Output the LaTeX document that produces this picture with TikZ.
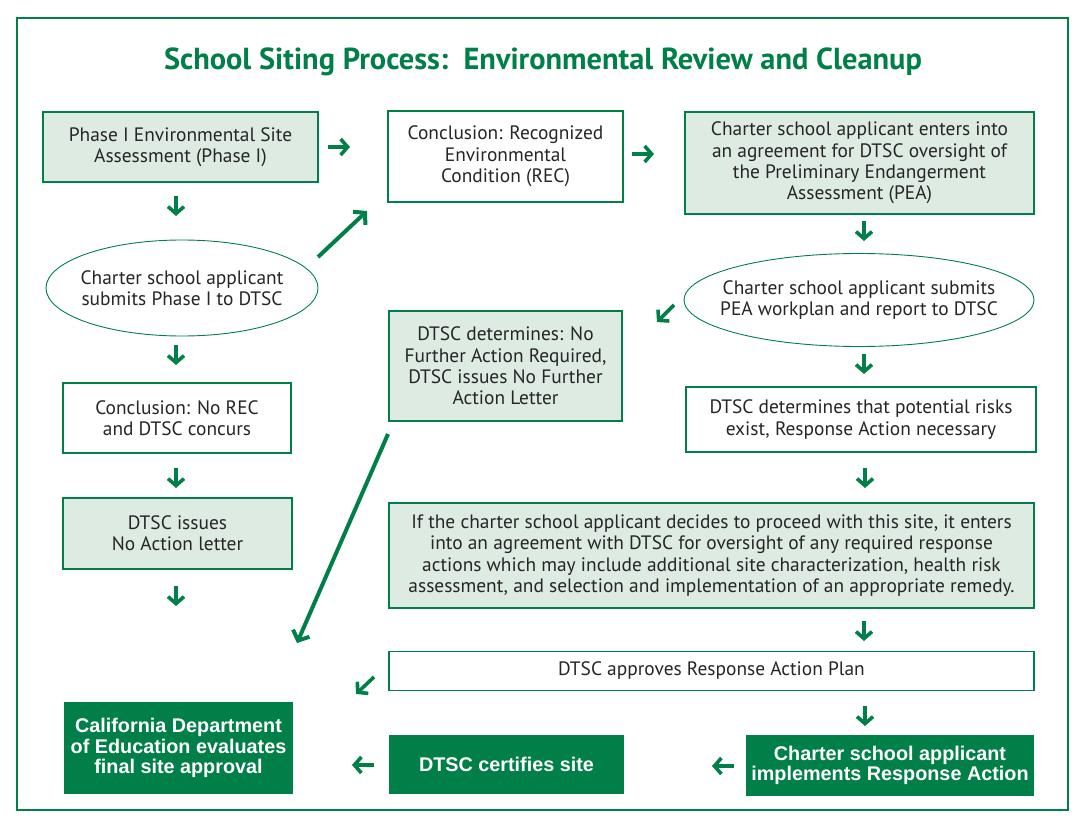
\documentclass[tikz,border=0pt]{standalone}
\usepackage{fontspec}
\setmainfont{PT Sans}
\newfontfamily\boldfont{Liberation Sans}
\usetikzlibrary{arrows.meta,shapes.geometric}
\definecolor{dgreen}{RGB}{0,128,72}
\definecolor{lgreen}{RGB}{221,235,226}
\begin{document}
\begin{tikzpicture}[x=1pt,y=-1pt,
  txt/.style={font=\fontsize{19.4}{21.4}\selectfont, align=center, text=black!85, inner sep=0pt},
  lbox/.style={txt, draw=dgreen, line width=1.2pt, fill=lgreen},
  wbox/.style={txt, draw=dgreen, line width=1.2pt, fill=white},
  tbox/.style={txt, draw=dgreen, line width=2.2pt, fill=white},
  dbox/.style={font=\boldfont\bfseries\fontsize{19.8}{20.6}\selectfont, align=center, text=white, fill=dgreen, inner sep=0pt},
  ell/.style={ellipse, draw=dgreen, line width=0.9pt, fill=white, inner sep=0pt},
  sarr/.style={draw=dgreen, line width=3.6pt, -{Straight Barb[length=7pt,width=16pt]}},
  larr/.style={draw=dgreen, line width=4pt, -{Straight Barb[length=8pt,width=18pt]}}]
\useasboundingbox (0,0) rectangle (1087,827);
\draw[dgreen, line width=1.2pt] (17,18) rectangle (1068,810);
\node[font=\fontsize{30.4}{34}\selectfont\bfseries, text=dgreen, inner sep=0pt] (title) at (543,62) {School Siting Process:\ \ Environmental Review and Cleanup};

% boxes
\node[lbox, minimum width=275, minimum height=70] (b1) at (180.5,147) {Phase I Environmental Site\\Assessment (Phase I)};
\node[tbox, minimum width=235, minimum height=91] (b2) at (505.5,156.5) {Conclusion: Recognized\\Environmental\\Condition (REC)};
\node[lbox, minimum width=349, minimum height=102] (b3) at (859.5,163) {Charter school applicant enters into\\an agreement for DTSC oversight of\\the Preliminary Endangerment\\Assessment (PEA)};
\node[ell, minimum width=272, minimum height=96] (e1) at (182,288) {};
\node[txt] (e1t) at (e1.center) {Charter school applicant\\submits Phase I to DTSC};
\node[ell, minimum width=350, minimum height=93] (e2) at (859,300) {};
\node[txt] (e2t) at (e2.center) {Charter school applicant submits\\PEA workplan and report to DTSC};
\node[lbox, minimum width=233, minimum height=110] (b4) at (505.5,366) {DTSC determines: No\\Further Action Required,\\DTSC issues No Further\\Action Letter};
\node[tbox, minimum width=228, minimum height=70] (b5) at (177,418) {Conclusion: No REC\\and DTSC concurs};
\node[lbox, minimum width=229, minimum height=71] (b6) at (177.5,533.5) {DTSC issues\\No Action letter};
\node[wbox, minimum width=350, minimum height=65] (b7) at (861,419.5) {DTSC determines that potential risks\\exist, Response Action necessary};
\node[lbox, minimum width=645, minimum height=105] (b8) at (711.5,555.5) {If the charter school applicant decides to proceed with this site, it enters\\into an agreement with DTSC for oversight of any required response\\actions which may include additional site characterization, health risk\\assessment, and selection and implementation of an appropriate remedy.};
\node[wbox, minimum width=645, minimum height=39] (b9) at (711.5,671) {DTSC approves Response Action Plan};
\node[dbox, minimum width=288, minimum height=61] (b10) at (890,765.5) {Charter school applicant\\implements Response Action};
\node[dbox, minimum width=235, minimum height=59] (b11) at (506.5,764.5) {DTSC certifies site};
\node[dbox, minimum width=229, minimum height=92] (b12) at (178.5,748) {California Department\\of Education evaluates\\final site approval};

% arrow end points
\coordinate (a1s) at (328,147);   \coordinate (a1e) at (350,147);
\coordinate (a2s) at (632,154);   \coordinate (a2e) at (654,154);
\coordinate (a3s) at (176,196);   \coordinate (a3e) at (176,216);
\coordinate (a4s) at (176,345);   \coordinate (a4e) at (176,365);
\coordinate (a5s) at (176,468);   \coordinate (a5e) at (176,488);
\coordinate (a6s) at (176,586);   \coordinate (a6e) at (176,606);
\coordinate (a7s) at (864,221);   \coordinate (a7e) at (864,241);
\coordinate (a8s) at (674,305);   \coordinate (a8e) at (657,322);
\coordinate (a9s) at (864,354);   \coordinate (a9e) at (864,374);
\coordinate (a10s) at (865,468);  \coordinate (a10e) at (865,488);
\coordinate (a11s) at (864,621);  \coordinate (a11e) at (864,641);
\coordinate (a12s) at (865,706);  \coordinate (a12e) at (865,726);
\coordinate (a13s) at (734,766);  \coordinate (a13e) at (712,766);
\coordinate (a14s) at (374,765);  \coordinate (a14e) at (352,765);
\coordinate (a15s) at (374,677);  \coordinate (a15e) at (356,694);
\coordinate (a16s) at (318,257);  \coordinate (a16e) at (367,211);
\coordinate (a17s) at (388,434);  \coordinate (a17e) at (297,643);

\foreach \i in {1,...,15} \draw[sarr] (a\i s) -- (a\i e);
\draw[larr] (a16s) -- (a16e);
\draw[larr] (a17s) -- (a17e);
\end{tikzpicture}
\end{document}
